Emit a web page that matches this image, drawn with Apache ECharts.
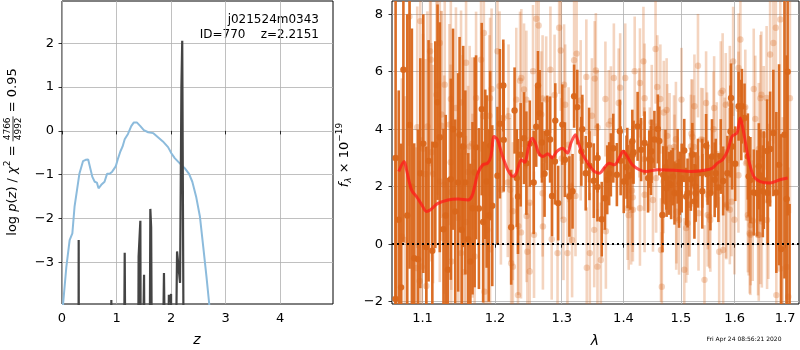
<!DOCTYPE html>
<html>
<head>
<meta charset="utf-8">
<script src="https://cdn.jsdelivr.net/npm/echarts@6/dist/echarts.min.js"></script>
<style>
html, body { margin: 0; padding: 0; background: #fff; }
#chart { width: 800px; height: 350px; }
</style>
</head>
<body>
<div id="chart"></div>
<script>
// p(z) panel
var zTicks = [0, 1, 2, 3, 4];
var pzTicks = [-3, -2, -1, 0, 1, 2];
var chiZ = [0.015, 0.02, 0.08, 0.14, 0.19, 0.23, 0.275, 0.32, 0.385, 0.434, 0.48, 0.51, 0.557, 0.6, 0.64, 0.67, 0.72, 0.78, 0.826, 0.875, 0.92, 0.985, 1.03, 1.07, 1.11, 1.15, 1.21, 1.27, 1.315, 1.376, 1.437, 1.5, 1.58, 1.67, 1.76, 1.85, 1.945, 2.006, 2.067, 2.16, 2.25, 2.33, 2.39, 2.46, 2.53, 2.59, 2.65, 2.70, 2.72];
var chiP = [-4.2, -3.95, -3.1, -2.49, -2.34, -1.73, -1.35, -0.97, -0.69, -0.66, -0.65, -0.69, -1.05, -1.16, -1.18, -1.31, -1.23, -1.16, -0.98, -0.98, -0.93, -0.81, -0.62, -0.47, -0.36, -0.19, -0.07, 0.11, 0.19, 0.19, 0.11, 0.02, -0.03, -0.05, -0.145, -0.24, -0.37, -0.51, -0.62, -0.74, -0.85, -0.98, -1.16, -1.5, -1.96, -2.64, -3.33, -3.95, -4.3];
var pdfZ = [0.300, 0.306, 0.312, 0.895, 0.905, 0.915, 1.125, 1.15, 1.175, 1.39, 1.405, 1.42, 1.437, 1.45, 1.485, 1.505, 1.525, 1.60, 1.62, 1.635, 1.66, 1.82, 1.87, 1.915, 1.945, 1.96, 1.98, 2.0, 2.015, 2.065, 2.11, 2.14, 2.165, 2.19, 2.205, 2.215, 2.24];
var pdfP = [-8, -2.49, -8, -8, -3.86, -8, -8, -2.78, -8, -8, -2.87, -2.9, -2.05, -8, -8, -3.28, -8, -8, -1.78, -2.2, -8, -8, -3.24, -8, -8, -3.74, -3.9, -3.72, -8, -8, -2.75, -2.75, -3.47, 1.0, 2.06, 2.06, -8];

// spectrum panel
var waveTicks = [1.1, 1.2, 1.3, 1.4, 1.5, 1.6, 1.7];
var fluxTicks = [-2, 0, 2, 4, 6, 8];

var darkWave = [1.069, 1.075, 1.083, 1.089, 1.094, 1.097, 1.105, 1.108, 1.113, 1.117,
  1.120, 1.123, 1.128, 1.134, 1.138, 1.144, 1.148, 1.150, 1.155, 1.158,
  1.162, 1.165, 1.168, 1.173, 1.177, 1.181, 1.183, 1.186, 1.188, 1.193,
  1.196, 1.2035, 1.207, 1.212, 1.2235, 1.2285, 1.2335, 1.2375, 1.2425, 1.246,
  1.257, 1.2635, 1.266, 1.2695, 1.2735, 1.2775, 1.282, 1.285, 1.2895, 1.2945,
  1.301, 1.305, 1.312, 1.317, 1.3195, 1.3245, 1.331, 1.338, 1.344, 1.351,
  1.357, 1.364, 1.369, 1.373, 1.379, 1.383, 1.389, 1.394, 1.4005, 1.4065,
  1.415, 1.424, 1.430, 1.436, 1.442, 1.448, 1.453, 1.459, 1.467, 1.474,
  1.4825, 1.4885, 1.494, 1.506, 1.512, 1.518, 1.5245, 1.531, 1.539, 1.546,
  1.554, 1.564, 1.5735, 1.586, 1.593, 1.601, 1.6075, 1.614, 1.619, 1.627,
  1.637, 1.647, 1.655, 1.6645, 1.6695, 1.676, 1.682, 1.6875, 1.692, 1.6985,
  1.703, 1.065, 1.072, 1.080, 1.709, 1.705,
  1.2126, 1.2317, 1.2511, 1.2608, 1.290, 1.3326, 1.3435, 1.3572, 1.3762, 1.3953,
  1.4051, 1.4117, 1.4171, 1.4616, 1.4785, 1.5014, 1.4725, 1.4966, 1.5207, 1.5388,
  1.557, 1.578, 1.569, 1.6304, 1.6436, 1.6502, 1.6634, 1.0649, 1.086, 1.101,
  1.131, 1.141, 1.153, 1.171, 1.191, 1.447, 1.5267, 1.6568,
  1.4440, 1.4157, 1.4070, 1.4685, 1.4855, 1.5490, 1.5095, 1.4745, 1.4980, 1.6255,
  1.5920, 1.5950, 1.6127, 1.5620, 1.5265];
var darkFlux = [0.85, 6.07, 4.15, -0.49, -0.52, 2.47, -0.10, 2.90, -0.23, 3.46,
  4.94, 3.72, 0.52, -0.89, 2.26, 1.14, 2.15, 3.81, 3.40, 2.15,
  0.17, -0.60, 1.25, 3.37, 1.24, 4.70, 0.77, 2.78, 2.18, 3.43,
  1.34, 2.38, 4.19, 5.52, 0.59, 4.65, 1.66, 3.11, 3.69, 2.82,
  2.15, 5.52, 4.56, 3.54, 2.45, 3.87, 3.64, 1.68, 2.88, 1.43,
  4.16, 2.94, 1.66, 1.84, 5.15, 4.77, 3.23, 2.47, 2.73, 2.21,
  1.99, 0.87, 1.60, 2.24, 2.76, 3.34, 2.42, 3.93, 2.18, 3.05,
  3.58, 4.10, 3.29, 3.52, 2.30, 3.23, 3.64, 4.01, 1.02, 2.30,
  2.07, 1.78, 2.71, 3.26, 1.78, 2.26, 1.49, 2.47, 1.84, 3.43,
  1.78, 2.47, 3.05, 2.47, 5.09, 2.80, 4.80, 4.80, 4.39, 2.36,
  1.80, 2.71, 1.84, 1.78, 3.31, 3.87, 1.80, 2.76, -0.17, 3.81,
  1.57, 3.0, -1.5, 1.0, -2.5, 6.0,
  3.63, 2.30, 3.50, 4.09, 4.30, 4.00, 3.45, 3.00, 2.45, 2.90,
  2.68, 2.40, 3.20, 3.59, 2.12, 2.30, 2.68, 1.77, 3.12, 2.47,
  3.05, 2.20, 1.97, 2.23, 1.77, 2.39, 3.24, -1.9, 2.0, 3.5,
  1.0, 4.0, 0.5, 2.5, 1.0, 2.91, 2.0, 2.23,
  2.96, 3.11, 2.35, 2.41, 2.35, 2.47, 1.66, 1.95, 2.12, 3.05,
  3.92, 3.40, 4.32, 2.24, 1.77];
var darkErr = [4.5, 6.0, 5.0, 4.0, 4.5, 4.0, 3.5, 4.2, 3.8, 3.6,
  3.4, 4.0, 3.5, 3.2, 3.5, 3.2, 3.8, 3.4, 3.5, 3.2,
  3.0, 3.4, 3.0, 3.2, 2.8, 3.0, 2.8, 2.6, 3.0, 2.6,
  2.8, 2.4, 2.6, 1.6, 2.0, 1.5, 2.0, 1.8, 1.6, 1.8,
  1.8, 1.2, 1.5, 1.4, 1.5, 1.3, 1.5, 1.4, 1.5, 1.3,
  1.4, 1.3, 1.4, 1.3, 1.1, 1.3, 1.2, 1.3, 1.2, 1.3,
  1.2, 1.3, 1.1, 1.2, 1.1, 1.2, 1.1, 1.1, 1.1, 1.0,
  1.1, 1.2, 1.1, 1.1, 1.2, 1.1, 1.0, 1.2, 1.3, 1.1,
  1.2, 1.1, 1.3, 1.1, 1.2, 1.1, 1.3, 1.2, 1.3, 1.1,
  1.3, 1.2, 1.3, 1.3, 1.2, 1.3, 1.2, 1.3, 1.2, 1.4,
  1.5, 1.5, 1.6, 1.8, 2.0, 2.2, 2.8, 3.5, 4.0, 5.0,
  5.0, 6.5, 5.0, 7.0, 3.9, 5.0,
  1.8, 1.7, 1.5, 1.4, 1.3, 1.2, 1.3, 1.2, 1.1, 1.2,
  1.1, 1.2, 1.1, 1.2, 1.1, 1.2, 1.3, 1.2, 1.1, 1.2,
  1.3, 1.2, 1.2, 1.5, 1.5, 1.6, 1.8, 5.0, 5.5, 4.5,
  3.5, 3.5, 3.0, 4.0, 3.0, 1.2, 1.2, 1.7,
  1.0, 1.0, 1.1, 1.0, 1.0, 1.1, 1.0, 1.0, 1.1, 1.5,
  1.6, 1.5, 1.4, 1.3, 1.0];

var lightWave = [1.073, 1.077, 1.097, 1.099, 1.110, 1.111, 1.120, 1.125, 1.129, 1.136,
  1.138, 1.145, 1.148, 1.152, 1.159, 1.164, 1.168, 1.171, 1.173, 1.180,
  1.184, 1.185, 1.189, 1.192, 1.195, 1.2035, 1.2085, 1.212, 1.2185, 1.2235,
  1.226, 1.231, 1.2335, 1.2385, 1.2425, 1.246, 1.2475, 1.251, 1.256, 1.2575,
  1.261, 1.2645, 1.2685, 1.271, 1.276, 1.2825, 1.2845, 1.2935, 1.296, 1.2985,
  1.3037, 1.309, 1.3195, 1.3235, 1.33, 1.339, 1.3446, 1.348, 1.3525, 1.357,
  1.3625, 1.370, 1.3755, 1.384, 1.392, 1.3945, 1.403, 1.407, 1.416, 1.419,
  1.427, 1.434, 1.4355, 1.445, 1.455, 1.458, 1.4645, 1.466, 1.469, 1.4885,
  1.4915, 1.501, 1.506, 1.512, 1.518, 1.5245, 1.531, 1.537, 1.543, 1.546,
  1.549, 1.561, 1.5705, 1.5735, 1.578, 1.583, 1.589, 1.597, 1.6075, 1.611,
  1.622, 1.627, 1.631, 1.637, 1.640, 1.65, 1.653, 1.6625, 1.666, 1.6695,
  1.676, 1.681, 1.682, 1.69, 1.695,
  1.4634, 1.4695, 1.4484, 1.4755, 1.4797, 1.4876, 1.4966, 1.5147, 1.5207, 1.5237,
  1.5478, 1.5539, 1.560, 1.5659, 1.581, 1.584,
  1.3544, 1.3054, 1.3108, 1.3299, 1.3572, 1.379, 1.428, 1.2999, 1.3136, 1.3397,
  1.3163, 1.3027, 1.3517, 1.3708, 1.4089, 1.428, 1.4144, 1.3217,
  1.1929, 1.1832, 1.2065, 1.2196, 1.222, 1.2259, 1.2341, 1.238, 1.2366, 1.2705,
  1.2889, 1.1929, 1.2511, 1.2463, 1.2705,
  1.0828, 1.123, 1.1297, 1.1185, 1.152, 1.1252, 1.1064, 1.093, 1.1677, 1.1006,
  1.1543, 1.1118, 1.114, 1.1038, 1.123, 1.1377, 1.1618, 1.1386, 1.1587, 1.1051,
  1.0917, 1.0962, 1.1386, 1.1565,
  1.6502, 1.5907, 1.6072, 1.6205, 1.6568, 1.7097, 1.6469, 1.6072, 1.594, 1.635,
  1.6634, 1.6304, 1.6469, 1.5907, 1.703, 1.6899, 1.7064,
  1.4360, 1.4745, 1.4910, 1.5190, 1.5400, 1.4157, 1.4360, 1.4505, 1.4560, 1.4920,
  1.5095, 1.5160, 1.5320, 1.4130, 1.5770, 1.5490, 1.5835, 1.6255, 1.6290, 1.6455,
  1.5995, 1.5520, 1.6520];
var lightFlux = [0.27, 0.15, 7.76, -0.78, 6.71, 6.42, 5.52, 4.12, 2.07, 4.16,
  5.05, 4.74, 0.91, -0.31, 6.31, 3.40, 1.34, -0.43, 5.09, 6.42,
  7.35, -1.65, 0.50, 4.47, 5.40, 6.71, 1.89, 4.39, 2.15, -0.66,
  -0.78, 5.03, -1.77, 5.78, 5.38, 5.03, -0.26, -0.95, 6.02, 0.33,
  7.84, 7.61, 4.51, 0.62, 5.03, 6.07, 0.17, -0.31, 7.53, 6.74,
  5.55, -0.31, 6.40, 6.63, 3.52, 5.82, -0.31, 4.47, 5.76, -0.78,
  -0.55, 5.05, 4.16, 5.78, 4.91, 5.44, 5.78, 1.25, 1.20, 6.02,
  4.22, 6.36, 2.96, 2.96, 6.79, 5.47, -0.20, -1.48, 2.18, 2.71,
  0.91, 5.03, -0.89, 0.73, 3.40, 4.80, 6.21, 3.64, -1.24, 4.91,
  1.02, 4.74, -0.26, 5.26, -0.20, 4.85, 2.94, 6.36, 6.13, 7.12,
  2.82, 0.91, 0.67, 5.40, 4.36, 0.91, 0.79, 5.09, 1.49, 6.60,
  7.00, 7.53, -1.77, 7.82, -0.08,
  5.05, 4.58, 4.24, 3.77, 3.36, 3.38, 0.84, 1.37, 3.73, 3.38,
  3.38, 0.84, 4.00, 3.14, 3.20, 1.37,
  6.04, 4.85, 3.46, 5.00, 4.06, 4.29, 5.61, 2.98, 2.00, -0.82,
  0.15, 0.85, 0.50, 0.45, 1.01, 1.25, 1.86, 1.68,
  5.08, 4.45, 5.50, 4.45, 1.89, 1.15, 0.63, 0.41, 5.69, 5.07,
  5.19, -0.18, 1.44, 0.98, 1.77,
  7.92, 7.00, 5.55, 5.20, 4.93, 4.51, 4.10, 4.07, 3.50, 3.32,
  3.38, 3.20, 2.44, 2.44, 2.18, 2.85, 2.51, 1.81, 0.77, -1.45,
  -0.83, -1.28, -0.60, -0.97,
  5.08, 4.90, 4.70, 4.77, 3.80, 5.08, 3.31, 2.40, 1.48, 0.82,
  0.84, 0.33, 0.33, 1.20, -0.79, -0.85, -1.83,
  5.08, 4.67, 3.65, 3.84, 3.63, 1.63, 1.72, 1.54, 2.30, 1.13,
  0.56, 1.37, 1.08, 1.19, 5.34, 1.72, 1.31, 1.02, 0.38, 0.32,
  0.85, 0.96, 5.20];
var lightErr = [5.5, 5.0, 4.5, 4.5, 4.0, 4.0, 3.8, 4.0, 3.8, 3.5,
  3.5, 3.5, 3.5, 3.5, 3.2, 3.5, 3.2, 3.4, 3.0, 3.2,
  3.0, 3.0, 3.0, 2.8, 2.8, 2.8, 2.6, 2.6, 2.6, 2.5,
  2.4, 2.5, 2.4, 2.4, 2.3, 2.4, 2.3, 2.4, 2.3, 2.2,
  2.3, 2.3, 2.2, 2.2, 2.2, 2.2, 2.1, 2.2, 2.3, 2.1,
  2.1, 2.1, 2.1, 2.0, 2.0, 2.0, 2.1, 2.0, 2.0, 2.0,
  2.0, 2.0, 1.9, 1.9, 1.9, 1.9, 1.9, 1.8, 1.8, 1.9,
  1.9, 1.9, 1.8, 1.8, 1.9, 1.8, 1.8, 1.9, 1.8, 1.8,
  1.8, 1.8, 1.8, 1.8, 1.8, 1.8, 1.8, 1.8, 1.9, 1.8,
  1.8, 1.8, 1.9, 1.8, 1.9, 1.8, 1.8, 1.9, 1.9, 2.0,
  2.0, 2.0, 2.1, 2.1, 2.2, 2.3, 2.3, 2.5, 2.7, 3.0,
  3.5, 3.5, 3.5, 4.5, 4.5,
  1.9, 1.8, 2.0, 1.8, 1.9, 1.8, 1.9, 1.8, 2.0, 1.8,
  1.9, 1.8, 2.0, 1.8, 1.9, 1.9,
  2.0, 2.1, 2.0, 2.1, 2.0, 1.9, 1.9, 2.1, 2.0, 2.1,
  2.0, 2.1, 2.0, 2.0, 1.9, 2.0, 1.9, 2.1,
  2.8, 2.8, 2.6, 2.5, 2.5, 2.4, 2.4, 2.3, 2.4, 2.2,
  2.1, 2.7, 2.3, 2.3, 2.2,
  4.5, 3.5, 3.5, 3.8, 3.2, 3.6, 4.0, 4.2, 3.0, 4.0,
  3.2, 3.8, 3.8, 4.0, 3.5, 3.4, 3.0, 3.4, 3.0, 4.0,
  4.2, 4.2, 3.4, 3.2,
  2.2, 2.0, 2.0, 2.0, 2.4, 4.0, 2.3, 2.0, 1.9, 2.1,
  2.4, 2.1, 2.3, 1.9, 4.0, 3.5, 4.5,
  1.9, 1.8, 2.0, 1.9, 1.8, 1.9, 2.0, 1.8, 1.9, 1.8,
  1.9, 1.8, 2.0, 1.9, 2.0, 1.9, 1.8, 2.0, 2.1, 2.1,
  1.9, 1.8, 2.2];

var modelWave = [1.069, 1.076, 1.079, 1.0855, 1.092, 1.099, 1.105, 1.1106, 1.12, 1.134,
  1.148, 1.1616, 1.167, 1.171, 1.1755, 1.1824, 1.1894, 1.194, 1.1986, 1.2035,
  1.211, 1.2185, 1.226, 1.231, 1.2385, 1.2435, 1.2495, 1.2545, 1.2595, 1.2645,
  1.271, 1.2785, 1.285, 1.2925, 1.301, 1.309, 1.3145, 1.3215, 1.3265, 1.332,
  1.3415, 1.352, 1.360, 1.368, 1.376, 1.385, 1.394, 1.3995, 1.4065, 1.415,
  1.427, 1.4386, 1.459, 1.488, 1.5184, 1.5429, 1.558, 1.567, 1.5767, 1.586,
  1.595, 1.6045, 1.611, 1.6175, 1.627, 1.637, 1.65, 1.6695, 1.689, 1.705];
var modelFlux = [2.53, 2.88, 2.59, 1.89, 1.66, 1.37, 1.14, 1.20, 1.41, 1.54,
  1.57, 1.54, 1.66, 2.01, 2.47, 2.76, 2.82, 3.05, 3.75, 3.64,
  3.05, 2.59, 2.36, 2.47, 2.94, 2.85, 3.40, 3.69, 3.52, 3.17,
  3.05, 3.15, 3.00, 3.23, 3.34, 3.17, 3.52, 3.81, 3.52, 3.17,
  2.82, 2.53, 2.47, 2.65, 2.82, 2.76, 3.05, 3.23, 3.05, 2.76,
  2.59, 2.53, 2.59, 2.57, 2.53, 2.57, 2.65, 2.82, 2.94, 3.23,
  3.75, 3.87, 4.39, 3.87, 2.94, 2.36, 2.18, 2.13, 2.24, 2.30];

var FONT = '"DejaVu Sans", "Liberation Sans", sans-serif';
var ORANGE = '#d9661a';

function zip(a, b, c) {
  return a.map(function (v, i) { return c ? [v, b[i], c[i]] : [v, b[i]]; });
}
function minus(v) { return String(v).replace('-', '\u2212'); }

function errBars(color, alpha) {
  return function (params, api) {
    var cs = params.coordSys;
    var x = api.value(0), y = api.value(1), e = api.value(2);
    var c = api.coord([x, y]);
    var hi = api.coord([x, y + e]);
    var lo = api.coord([x, y - e]);
    var y1 = Math.max(cs.y, hi[1]);
    var y2 = Math.min(cs.y + cs.height, lo[1]);
    var kids = [];
    if (y2 > y1) {
      kids.push({ type: 'line', shape: { x1: c[0], y1: y1, x2: c[0], y2: y2 },
        style: { stroke: color, lineWidth: 2.6, opacity: alpha } });
    }
    if (c[1] >= cs.y && c[1] <= cs.y + cs.height) {
      kids.push({ type: 'circle', shape: { cx: c[0], cy: c[1], r: 3.2 },
        style: { fill: color, opacity: alpha } });
    }
    return { type: 'group', children: kids };
  };
}

// math-like rotated labels built from measured pieces
var mctx = document.createElement('canvas').getContext('2d');
function pieceFont(p) { return (p.it ? 'italic ' : '') + p.s + 'px ' + FONT; }
function textW(t, f) { mctx.font = f; return mctx.measureText(t).width; }
function mathLabel(cx, cy, rot, pieces) {
  var kids = [], x = 0;
  pieces.forEach(function (p) {
    var f = pieceFont(p), w;
    if (p.frac) {
      w = Math.max(textW(p.frac[0], f), textW(p.frac[1], f)) + 2;
      kids.push({ type: 'text', x: x + w / 2, y: -5.5, style: { text: p.frac[0], font: f, fill: '#000', textAlign: 'center', textVerticalAlign: 'middle' } });
      kids.push({ type: 'text', x: x + w / 2, y: 5.5, style: { text: p.frac[1], font: f, fill: '#000', textAlign: 'center', textVerticalAlign: 'middle' } });
      kids.push({ type: 'line', x: 0, y: 0, shape: { x1: x, y1: 0, x2: x + w, y2: 0 }, style: { stroke: '#000', lineWidth: 0.8 } });
    } else {
      w = textW(p.t, f);
      kids.push({ type: 'text', x: x, y: p.dy || 0, style: { text: p.t, font: f, fill: '#000', textAlign: 'left', textVerticalAlign: 'middle' } });
    }
    x += w;
  });
  kids.forEach(function (k) { k.x -= x / 2; });
  return { type: 'group', x: cx, y: cy, rotation: rot, children: kids };
}

function axisCommon(ticks, fmt, margin) {
  return {
    axisLine: { show: false },
    axisTick: { show: true, length: 3.5, customValues: ticks, lineStyle: { color: '#000', width: 0.8 } },
    axisLabel: { customValues: ticks, formatter: fmt, color: '#000', fontSize: 13, fontFamily: FONT, margin: margin },
    splitLine: { show: true, lineStyle: { color: '#b0b0b0', width: 0.8 } }
  };
}

var chart = echarts.init(document.getElementById('chart'));
chart.setOption({
  animation: false,
  backgroundColor: '#fff',
  textStyle: { fontFamily: FONT },
  grid: [
    { left: 62, top: 1, width: 271, height: 303, show: true, borderColor: '#000', borderWidth: 1, backgroundColor: 'transparent' },
    { left: 392, top: 1, width: 407, height: 303, show: true, borderColor: '#000', borderWidth: 1, backgroundColor: 'transparent' }
  ],
  xAxis: [
    Object.assign({ type: 'value', gridIndex: 0, min: 0, max: 4.97 }, axisCommon(zTicks, function (v) { return String(v); }, 8)),
    Object.assign({ type: 'log', logBase: 10, gridIndex: 1, min: 1.0604, max: 1.7284 }, axisCommon(waveTicks, function (v) { return (+v).toFixed(1); }, 8))
  ],
  yAxis: [
    Object.assign({ type: 'value', gridIndex: 0, min: -3.95, max: 2.965 }, axisCommon(pzTicks, minus, 8)),
    Object.assign({ type: 'value', gridIndex: 1, min: -2.08, max: 8.46 }, axisCommon(fluxTicks, minus, 9))
  ],
  series: [
    { type: 'line', xAxisIndex: 0, yAxisIndex: 0, data: zip(chiZ, chiP), showSymbol: false, symbol: 'none',
      lineStyle: { color: '#8cbbdc', width: 2 }, z: 3 },
    { type: 'line', xAxisIndex: 0, yAxisIndex: 0, data: zip(pdfZ, pdfP), showSymbol: false, symbol: 'none',
      lineStyle: { color: '#444', width: 2.2 }, z: 4 },
    { type: 'custom', xAxisIndex: 1, yAxisIndex: 1, data: zip(lightWave, lightFlux, lightErr),
      encode: { x: 0, y: 1 }, renderItem: errBars(ORANGE, 0.28), z: 3 },
    { type: 'custom', xAxisIndex: 1, yAxisIndex: 1, data: zip(darkWave, darkFlux, darkErr),
      encode: { x: 0, y: 1 }, renderItem: errBars(ORANGE, 0.95), z: 4 },
    { type: 'line', xAxisIndex: 1, yAxisIndex: 1, data: zip(modelWave, modelFlux), showSymbol: false, symbol: 'none',
      smooth: 0.3, lineStyle: { color: '#ff1a1a', width: 3, opacity: 0.75 }, z: 5,
      markLine: { silent: true, symbol: 'none', label: { show: false }, animation: false,
        lineStyle: { color: '#000', type: [2, 3], width: 2 }, data: [{ yAxis: 0 }] } }
  ],
  graphic: [
    { type: 'text', x: 319, y: 20, style: { text: 'j021524m0343', font: '12px ' + FONT, fill: '#000', textAlign: 'right', textVerticalAlign: 'middle' } },
    { type: 'text', x: 319, y: 35, style: { text: 'ID=770    z=2.2151', font: '12px ' + FONT, fill: '#000', textAlign: 'right', textVerticalAlign: 'middle' } },
    { type: 'text', x: 197, y: 340, style: { text: 'z', font: 'italic 14px ' + FONT, fill: '#000', textAlign: 'center', textVerticalAlign: 'middle' } },
    { type: 'text', x: 595, y: 341, style: { text: '\u03bb', font: 'italic 14px ' + FONT, fill: '#000', textAlign: 'center', textVerticalAlign: 'middle' } },
    { type: 'text', x: 744, y: 339, style: { text: 'Fri Apr 24 08:56:21 2020', font: '6px ' + FONT, fill: '#000', textAlign: 'center', textVerticalAlign: 'middle' } },
    mathLabel(13, 152, Math.PI / 2, [
      { t: 'log ', s: 13 }, { t: 'p', s: 13, it: true }, { t: '(', s: 13 }, { t: 'z', s: 13, it: true },
      { t: ') / ', s: 13 }, { t: '\u03c7', s: 13, it: true }, { t: '2', s: 9, dy: -5 }, { t: ' = ', s: 13 },
      { frac: ['4766', '4992'], s: 9 }, { t: ' = 0.95', s: 13 }
    ]),
    mathLabel(345, 155, Math.PI / 2, [
      { t: 'f', s: 13, it: true }, { t: '\u03bb', s: 9, it: true, dy: 4 }, { t: ' \u00d7 10', s: 13 }, { t: '\u221219', s: 9, dy: -5 }
    ])
  ]
});
</script>
</body>
</html>
